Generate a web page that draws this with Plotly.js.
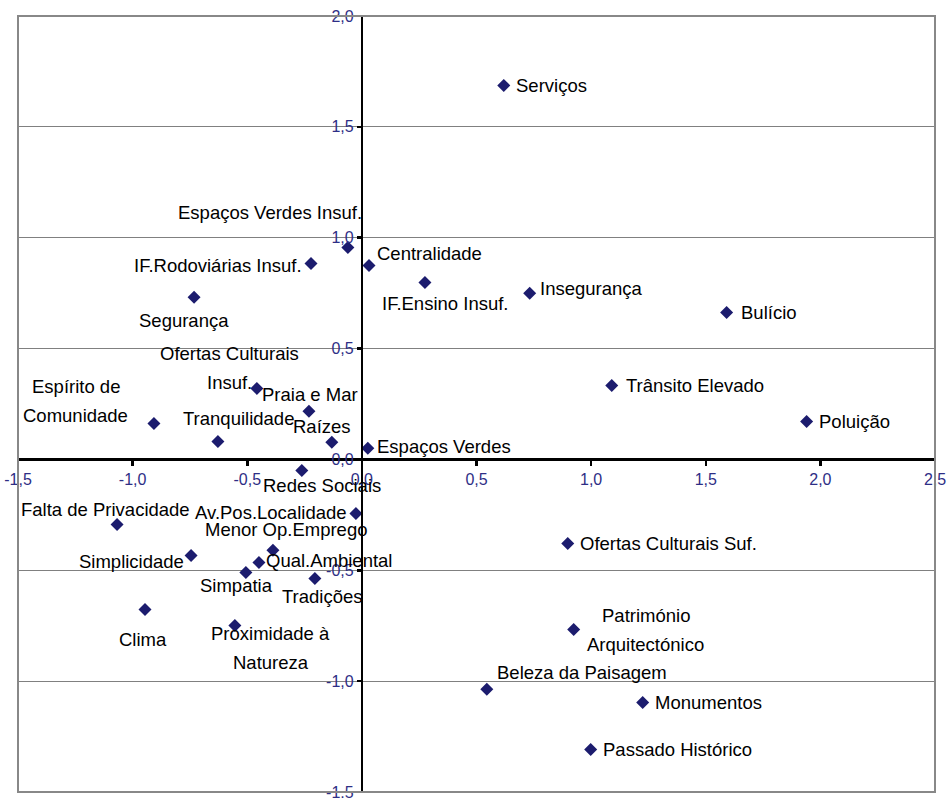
<!DOCTYPE html>
<html>
<head>
<meta charset="utf-8">
<script src="https://cdn.plot.ly/plotly-3.0.1.min.js"></script>
<style>
html,body{margin:0;padding:0;background:#fff;}
#chart{width:947px;height:798px;}
</style>
</head>
<body>
<div id="chart"></div>
<script>
// ---- data ----
var labels = [
  "Serviços", "Espaços Verdes Insuf.", "Centralidade", "IF.Rodoviárias Insuf.", "IF.Ensino Insuf.",
  "Insegurança", "Bulício", "Segurança", "Ofertas Culturais\nInsuf.", "Praia e Mar",
  "Trânsito Elevado", "Poluição", "Espírito de\nComunidade", "Tranquilidade", "Raízes",
  "Espaços Verdes", "Redes Sociais", "Av.Pos.Localidade", "Falta de Privacidade", "Menor Op.Emprego",
  "Simplicidade", "Qual.Ambiental", "Simpatia", "Tradições", "Ofertas Culturais Suf.",
  "Clima", "Proximidade à\nNatureza", "Património\nArquitectónico", "Beleza da Paisagem", "Monumentos",
  "Passado Histórico"
];
var xValues = [
  0.619, -0.061, 0.031, -0.222, 0.275,
  0.732, 1.591, -0.732, -0.458, -0.231,
  1.090, 1.940, -0.907, -0.628, -0.131,
  0.026, -0.262, -0.026, -1.068, -0.388,
  -0.745, -0.449, -0.506, -0.205, 0.898,
  -0.946, -0.554, 0.924, 0.545, 1.225,
  0.998
];
var yValues = [
  1.687, 0.956, 0.875, 0.884, 0.798,
  0.749, 0.663, 0.731, 0.320, 0.217,
  0.334, 0.171, 0.162, 0.081, 0.077,
  0.050, -0.050, -0.244, -0.293, -0.410,
  -0.433, -0.465, -0.510, -0.537, -0.379,
  -0.677, -0.749, -0.767, -1.037, -1.096,
  -1.308
];
var xTickVals = [-1.5, -1.0, -0.5, 0.0, 0.5, 1.0, 1.5, 2.0, 2.5];
var xTickText = ["-1,5", "-1,0", "-0,5", "0,0", "0,5", "1,0", "1,5", "2,0", "2,5"];
var yTickVals = [-1.5, -1.0, -0.5, 0.0, 0.5, 1.0, 1.5, 2.0];
var yTickText = ["-1,5", "-1,0", "-0,5", "0,0", "0,5", "1,0", "1,5", "2,0"];

// ---- label placement (pixel offsets of label centre from its point) ----
var labelDX = [48, -78, 61, -93, 20, 62, 42, -10, -27, 1, 83, 48, -78, 21, -10, 76, 20, -85, -12, 13, -60, 70, -9, 8, 101, -2, 36, 72, 95, 66, 87];
var labelDY = [0, 35, 12, -2, -21, 5, 0, -23, 20, 17, 0, 0, 23, 23, 16, 2, -15, 1, 15, 21, -6, 2, -13, -18, 0, -30, -23, -1, 17, 0, 0];
var LINE_GAP = 29;

var annotations = [];
labels.forEach(function (lab, i) {
  var lines = lab.split("\n");
  lines.forEach(function (ln, k) {
    annotations.push({
      x: xValues[i], y: yValues[i], xref: "x", yref: "y",
      text: ln, showarrow: false,
      xanchor: "center", yanchor: "middle",
      xshift: labelDX[i],
      yshift: labelDY[i] - (k - (lines.length - 1) / 2) * LINE_GAP,
      font: {family: "Liberation Sans, Arial, sans-serif", size: 18.5, color: "#000"}
    });
  });
});

var trace = {
  x: xValues, y: yValues, type: "scatter", mode: "markers",
  marker: {symbol: "diamond", size: 10, color: "#1c1c6e"},
  hoverinfo: "skip", cliponaxis: false
};

var layout = {
  width: 947, height: 798,
  margin: {l: 18, r: 12, t: 16, b: 6, pad: 0},
  paper_bgcolor: "#fff", plot_bgcolor: "#fff",
  showlegend: false,
  xaxis: {
    range: [-1.5, 2.5], anchor: "free", position: 1.5 / 3.5,
    tickvals: xTickVals, ticktext: xTickText, ticklabeloverflow: "allow",
    showgrid: false, zeroline: false,
    showline: true, linecolor: "#000", linewidth: 2.5,
    ticks: "outside", ticklen: 5, tickwidth: 2.5, tickcolor: "#000",
    tickfont: {family: "Liberation Sans, Arial, sans-serif", size: 16, color: "#2e2e86"}
  },
  yaxis: {
    range: [-1.5, 2.0], anchor: "free", position: 1.5 / 4,
    tickvals: yTickVals, ticktext: yTickText, ticklabeloverflow: "allow",
    showgrid: true, gridcolor: "#808080", gridwidth: 1, zeroline: false,
    showline: true, linecolor: "#000", linewidth: 2.5,
    ticks: "outside", ticklen: 4, tickwidth: 2.5, tickcolor: "#000",
    tickfont: {family: "Liberation Sans, Arial, sans-serif", size: 16, color: "#2e2e86"}
  },
  shapes: [{
    type: "rect", xref: "paper", yref: "paper", x0: 0, x1: 1, y0: 0, y1: 1,
    line: {color: "#888888", width: 2}, layer: "above"
  }],
  annotations: annotations
};

Plotly.newPlot("chart", [trace], layout, {displayModeBar: false, staticPlot: true});
</script>
</body>
</html>
